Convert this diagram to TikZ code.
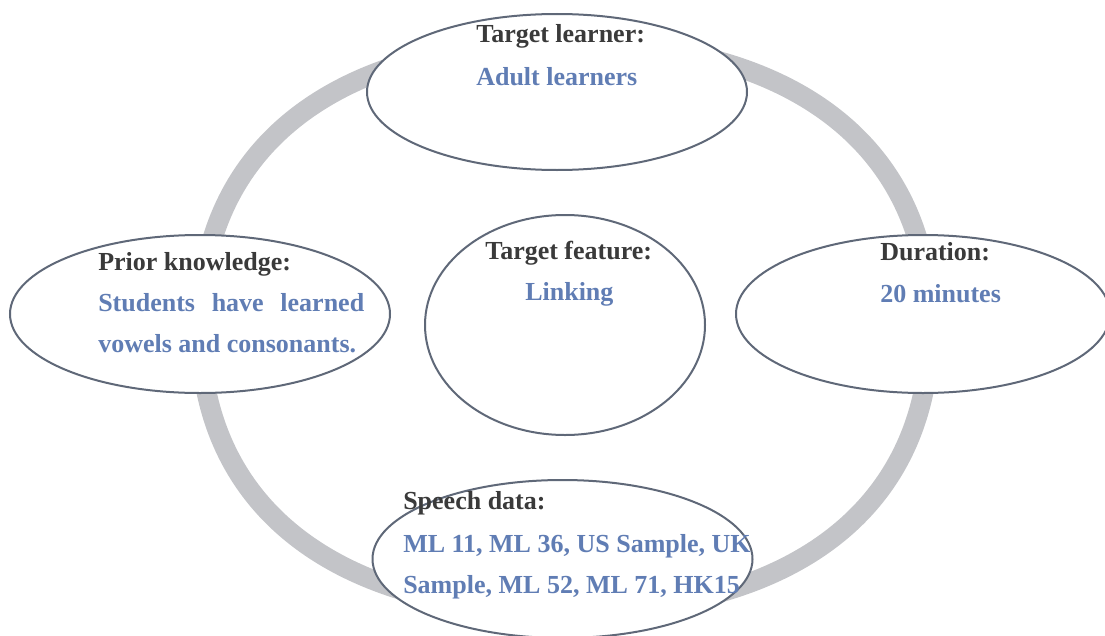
\documentclass[tikz,border=0pt]{standalone}
\usepackage{fontspec}
\setmainfont{Liberation Serif}
\usetikzlibrary{shapes.geometric}
\definecolor{ringgray}{HTML}{C3C4C8}
\definecolor{edgec}{HTML}{5F6878}
\definecolor{titlec}{HTML}{3A3A3A}
\definecolor{bodyc}{HTML}{607DB4}
\begin{document}
\begin{tikzpicture}[x=0.75pt,y=-0.75pt,
  ring/.style={draw=ringgray,line width=15pt},
  bubble/.style={ellipse,draw=edgec,line width=1.5pt,fill=white,inner sep=0pt},
  titletext/.style={anchor=base west,inner sep=0pt,text=titlec,font=\fontsize{19.5}{23}\selectfont\bfseries},
  bodytext/.style={anchor=base west,inner sep=0pt,text=bodyc,font=\fontsize{19.5}{23}\selectfont\bfseries}]
\useasboundingbox (0,0) rectangle (1105,635);
% ring
\draw[ring] (930,327) .. controls (930,147.4) and (795,42) .. (565,42)
  .. controls (335,42) and (200,147.4) .. (200,327)
  .. controls (200,506.6) and (335,612) .. (565,612)
  .. controls (795,612) and (930,506.6) .. (930,327) -- cycle;
% bubbles
\node[bubble,minimum width=285pt,minimum height=117pt] (learner) at (557,92) {};
\node[bubble,minimum width=285pt,minimum height=118.5pt] (prior) at (200,314) {};
\node[bubble,minimum width=210pt,minimum height=165pt] (feature) at (565,325) {};
\node[bubble,minimum width=280.5pt,minimum height=118.5pt] (duration) at (923,314) {};
\node[bubble,minimum width=285pt,minimum height=118.5pt] (speech) at (562.5,559) {};
% texts
\node[titletext] (t1) at (476,43) {Target learner:};
\node[bodytext] (b1) at (476,85) {Adult learners};
\node[titletext] (t2) at (98,270) {Prior knowledge:};
\node[bodytext] (b2a) at (98,311) {\makebox[199.5pt][s]{Students have learned}};
\node[bodytext] (b2b) at (98,352) {vowels and consonants.};
\node[titletext] (t3) at (485,259) {Target feature:};
\node[bodytext] (b3) at (525,300) {Linking};
\node[titletext] (t4) at (880,260) {Duration:};
\node[bodytext] (b4) at (880,302) {20 minutes};
\node[titletext] (t5) at (403,509) {Speech data:};
\node[bodytext] (b5a) at (403,552) {ML 11, ML 36, US Sample, UK};
\node[bodytext] (b5b) at (403,593) {Sample, ML 52, ML 71, HK15};
\end{tikzpicture}
\end{document}
